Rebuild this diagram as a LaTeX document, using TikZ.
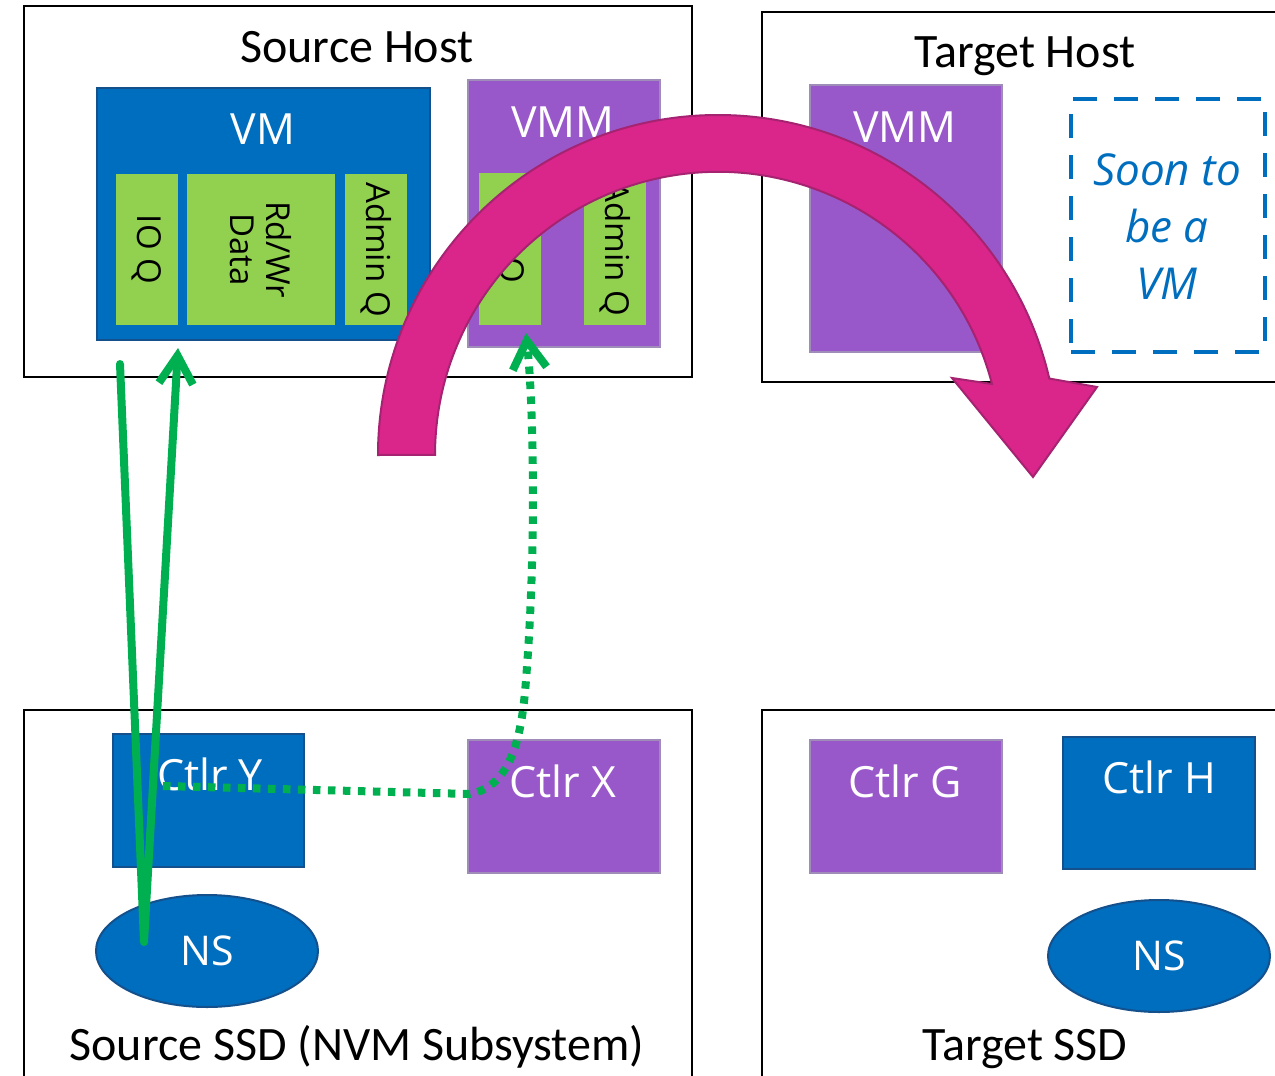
\documentclass[tikz,border=0pt]{standalone}
\usepackage{fontspec}
\setmainfont{Carlito}
\newfontfamily\boxfont{Open Sans}
\usepackage{xcolor}
\usetikzlibrary{positioning,fit,arrows.meta,shapes.geometric}

\definecolor{vmblue}{RGB}{0,110,190}
\definecolor{vmedge}{RGB}{20,80,140}
\definecolor{vmmpurple}{RGB}{153,88,202}
\definecolor{vmmedge}{RGB}{160,140,185}
\definecolor{qgreen}{RGB}{146,208,80}
\definecolor{migpink}{RGB}{218,38,138}
\definecolor{migedge}{RGB}{165,35,112}
\definecolor{linegreen}{RGB}{0,176,80}

\begin{document}
\begin{tikzpicture}[x=1pt, y=-1pt,
    hostbox/.style={draw=black, line width=2.5pt, inner sep=0pt},
    vmbox/.style={fill=vmblue, draw=vmedge, line width=2pt, inner sep=0pt},
    vmmbox/.style={fill=vmmpurple, draw=vmmedge, line width=2pt, inner sep=0pt},
    qbox/.style={fill=qgreen, inner sep=0pt},
    soonbox/.style={draw=vmblue, line width=4pt, dash pattern=on 24pt off 17pt, inner sep=0pt},
    nsnode/.style={ellipse, fill=vmblue, draw=vmedge, line width=2pt, inner sep=0pt,
        minimum width=222pt, minimum height=112pt, text=white,
        font=\boxfont\fontsize{41}{45}\selectfont},
    hosttitle/.style={anchor=base, inner sep=0pt, font=\fontsize{48}{52}\selectfont},
    boxtitle/.style={anchor=base, inner sep=0pt, text=white, font=\boxfont\fontsize{43}{47}\selectfont},
    qtext/.style={rotate=-90, align=center, inner sep=0pt, font=\boxfont\fontsize{33}{36}\selectfont},
    ioline/.style={linegreen, line width=8pt, line cap=round, line join=round,
        -{Straight Barb[length=28pt, width=34pt]}},
    adminline/.style={ioline, dash pattern=on 7.5pt off 7.5pt, line cap=butt},
    migrate/.style={fill=migpink, draw=migedge, line width=2pt}
]
    \clip (0,0) rectangle (1275,1076);

    % hosts
    \node[hostbox, fit={(24,6) (692,377)}] (srchost) {};
    \node[hosttitle] (srchostlbl) at (357,62) {Source Host};
    \node[hostbox, fit={(762,12) (1300,382)}] (tgthost) {};
    \node[hosttitle] (tgthostlbl) at (1025,67) {Target Host};

    \node[vmbox, fit={(97,88) (430,340)}] (vm) {};
    \node[boxtitle] (vmlbl) at (263,144) {VM};
    \node[qbox, fit={(116,174) (178,325)}] (vmioq) {};
    \node[qtext] at (vmioq) {IO Q};
    \node[qbox, fit={(187,174) (335,325)}] (vmdata) {};
    \node[qtext] at (vmdata) {Rd/Wr\\Data};
    \node[qbox, fit={(345,174) (407,325)}] (vmadminq) {};
    \node[qtext] at (vmadminq) {Admin Q};

    \node[vmmbox, fit={(468,80) (660,347)}] (srcvmm) {};
    \node[boxtitle] (srcvmmlbl) at (563,137) {VMM};
    \node[qbox, fit={(479,173) (541,325)}] (vmmioq) {};
    \node[qtext] at (vmmioq) {IO Q};
    \node[qbox, fit={(584,173) (646,325)}] (vmmadminq) {};
    \node[qtext] at (vmmadminq) {Admin Q};

    \node[vmmbox, fit={(810,85) (1002,352)}] (tgtvmm) {};
    \node[boxtitle] (tgtvmmlbl) at (905,142) {VMM};
    \node[soonbox, fit={(1071,99) (1265,352)}] (soon) {};
    \node[align=center, text=vmblue, font=\boxfont\itshape\fontsize{44}{57}\selectfont]
        (soonlbl) at (1167,227) {Soon to\\be a\\VM};

    % SSDs
    \node[hostbox, fit={(24,710) (692,1100)}] (srcssd) {};
    \node[hosttitle] (srcssdlbl) at (357,1060) {Source SSD (NVM Subsystem)};
    \node[hostbox, fit={(762,710) (1300,1100)}] (tgtssd) {};
    \node[hosttitle] (tgtssdlbl) at (1025,1060) {Target SSD};

    \node[vmbox, fit={(113,734) (304,867)}] (ctlry) {};
    \node[boxtitle] (ctlrylbl) at (210,790) {Ctlr Y};
    \node[vmmbox, fit={(468,740) (660,873)}] (ctlrx) {};
    \node[boxtitle] (ctlrxlbl) at (563,797) {Ctlr X};
    \node[nsnode] (srcns) at (207,951) {NS};

    \node[vmmbox, fit={(810,740) (1002,873)}] (ctlrg) {};
    \node[boxtitle] (ctlrglbl) at (905,797) {Ctlr G};
    \node[vmbox, fit={(1063,737) (1255,869)}] (ctlrh) {};
    \node[boxtitle] (ctlrhlbl) at (1159,793) {Ctlr H};
    \node[nsnode] (tgtns) at (1159,956) {NS};

    % migration arrow
    \filldraw[migrate] (378,455) arc[start angle=180, end angle=347, radius=340]
        -- (1097,387) -- (1033,477) -- (952,378) -- (992,384)
        arc[start angle=345.5, end angle=180, radius=283] -- cycle;

    % data path and admin path
    \coordinate (vmout) at (120,364);
    \coordinate (nsturn) at (144,942);
    \coordinate (vmin) at (178,348);
    \draw[ioline] (vmout) -- (nsturn) -- (vmin);

    \coordinate (ydot) at (163,786);
    \coordinate (xdot) at (470,794);
    \coordinate (vmmin) at (526,333);
    \draw[adminline] (ydot) -- (xdot) .. controls (512,786) and (522,735) .. (526,680)
        .. controls (537,540) and (533,400) .. (vmmin);
\end{tikzpicture}
\end{document}
